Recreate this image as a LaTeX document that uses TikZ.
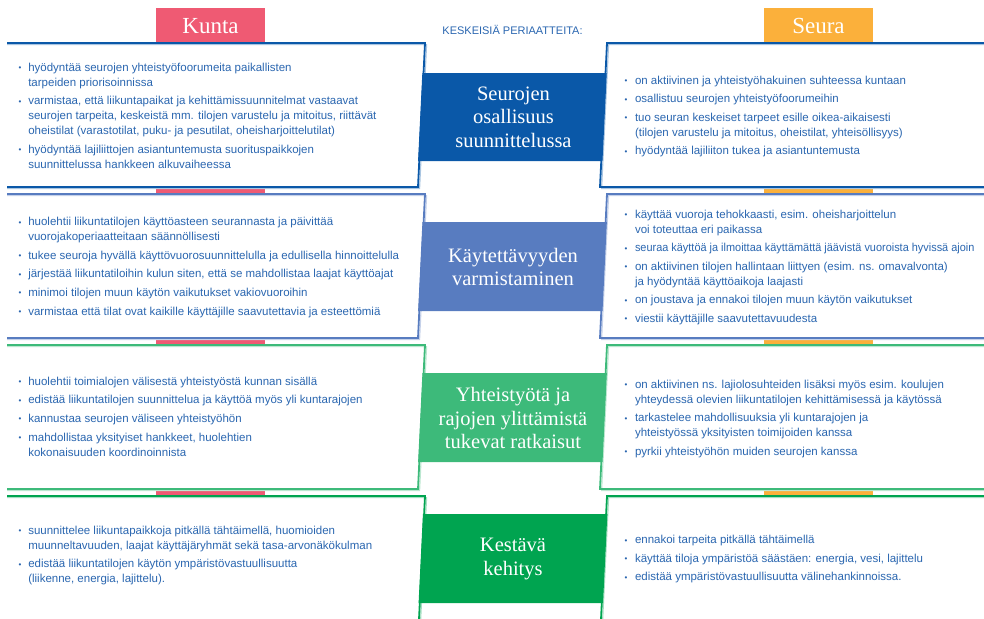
\documentclass[tikz,border=0pt]{standalone}
\usepackage{fontspec}
\setmainfont{Liberation Sans}
\newfontfamily\serifT{Liberation Serif}
\definecolor{cA}{HTML}{0A58A8}
\definecolor{cB}{HTML}{587CC0}
\definecolor{cC}{HTML}{3DBA7A}
\definecolor{cD}{HTML}{00A450}
\definecolor{kpink}{HTML}{EF5A73}
\definecolor{sorange}{HTML}{FBB03B}
\definecolor{txt}{HTML}{2A66B0}
\newcommand{\bul}{{\fontsize{8}{8}\selectfont\raisebox{0.6pt}{\textbullet}}}
\newcommand{\ig}{\\[3.6pt]}
\newcommand{\lblock}[1]{\begin{tabular}[t]{@{}p{9.6pt}@{}l@{}}#1\end{tabular}}
\newcommand{\rblock}[1]{\begin{tabular}[t]{@{}p{10.3pt}@{}l@{}}#1\end{tabular}}
\begin{document}
\begin{tikzpicture}[x=1pt,y=-1pt,
  body/.style={anchor=base west, inner sep=0pt, text=txt, font=\fontsize{11.5}{15}\selectfont},
  titletext/.style={text=white, align=center, inner sep=0pt, font=\serifT\fontsize{20.5}{23.5}\selectfont},
  headtext/.style={text=white, inner sep=0pt, font=\serifT\fontsize{23}{23}\selectfont},
  edge/.style={line width=1.8pt, line join=miter},
  shadow/.style={line width=1.1pt}
  ]
\useasboundingbox (0,0) rectangle (984,618);
\clip (0,0) rectangle (984,618);
% column strips and headers
\fill[kpink] (156,8) rectangle (265,620);
\fill[sorange] (764,8) rectangle (873,620);
\node[headtext] (kunta) at (210.5,26) {Kunta};
\node[headtext] (seura) at (818.5,26) {Seura};
\node[inner sep=0pt, text=txt, font=\fontsize{11}{11}\selectfont] (kesk) at (512.5,30) {KESKEISIÄ PERIAATTEITA:};
% boxes
\foreach \T/\a/\b/\c in {43/73/161/cA,194/222/311/cB,345/373/462/cC,496/514/603/cD}{
  \pgfmathsetmacro\B{\T+144}
  \fill[white] (0,\T) -- (425,\T) -- (418,\B) -- (0,\B) -- cycle;
  \fill[white] (990,\T) -- (607,\T) -- (600,\B) -- (990,\B) -- cycle;
  \draw[shadow,\c!35] (7,\T+1.6) -- (426.6,\T+1.6) -- (419.6,\B+1.6) -- (7,\B+1.6);
  \draw[shadow,\c!35] (990,\T+1.6) -- (608.6,\T+1.6) -- (601.6,\B+1.6) -- (990,\B+1.6);
  \draw[edge,\c] (7,\T) -- (425,\T) -- (418,\B) -- (7,\B);
  \draw[edge,\c] (990,\T) -- (607,\T) -- (600,\B) -- (990,\B);
  \pgfmathsetmacro\la{425-7*(\a-\T)/144-1.2}
  \pgfmathsetmacro\lb{425-7*(\b-\T)/144-1.2}
  \pgfmathsetmacro\ra{607-7*(\a-\T)/144+1.2}
  \pgfmathsetmacro\rb{607-7*(\b-\T)/144+1.2}
  \fill[\c] (\la,\a) -- (\ra,\a) -- (\rb,\b) -- (\lb,\b) -- cycle;
}
% titles
\node[titletext] (t1) at (513.5,117) {Seurojen\\osallisuus\\suunnittelussa};
\node[titletext] (t2) at (513,267) {Käytettävyyden\\varmistaminen};
\node[titletext] (t3) at (513,418) {Yhteistyötä ja\\rajojen ylittämistä\\tukevat ratkaisut};
\node[titletext] (t4) at (513,559) {Kestävä\\kehitys};
% left texts
\node[body] (l1) at (18.5,71.3) {\lblock{%
\bul & hyödyntää seurojen yhteistyöfoorumeita paikallisten\\
 & tarpeiden priorisoinnissa\ig
\bul & varmistaa, että liikuntapaikat ja kehittämissuunnitelmat vastaavat\\
 & seurojen tarpeita, keskeistä mm. tilojen varustelu ja mitoitus, riittävät\\
 & oheistilat (varastotilat, puku- ja pesutilat, oheisharjoittelutilat)\ig
\bul & hyödyntää lajiliittojen asiantuntemusta suorituspaikkojen\\
 & suunnittelussa hankkeen alkuvaiheessa}};
\node[body] (l2) at (18.5,225.7) {\lblock{%
\bul & huolehtii liikuntatilojen käyttöasteen seurannasta ja päivittää\\
 & vuorojakoperiaatteitaan säännöllisesti\ig
\bul & tukee seuroja hyvällä käyttövuorosuunnittelulla ja edullisella hinnoittelulla\ig
\bul & järjestää liikuntatiloihin kulun siten, että se mahdollistaa laajat käyttöajat\ig
\bul & minimoi tilojen muun käytön vaikutukset vakiovuoroihin\ig
\bul & varmistaa että tilat ovat kaikille käyttäjille saavutettavia ja esteettömiä}};
\node[body] (l3) at (18.5,385.3) {\lblock{%
\bul & huolehtii toimialojen välisestä yhteistyöstä kunnan sisällä\ig
\bul & edistää liikuntatilojen suunnittelua ja käyttöä myös yli kuntarajojen\ig
\bul & kannustaa seurojen väliseen yhteistyöhön\ig
\bul & mahdollistaa yksityiset hankkeet, huolehtien\\
 & kokonaisuuden koordinoinnista}};
\node[body] (l4) at (18.5,534) {\lblock{%
\bul & suunnittelee liikuntapaikkoja pitkällä tähtäimellä, huomioiden\\
 & muunneltavuuden, laajat käyttäjäryhmät sekä tasa-arvonäkökulman\ig
\bul & edistää liikuntatilojen käytön ympäristövastuullisuutta\\
 & (liikenne, energia, lajittelu).}};
% right texts
\node[body] (r1) at (624.5,84) {\rblock{%
\bul & on aktiivinen ja yhteistyöhakuinen suhteessa kuntaan\ig
\bul & osallistuu seurojen yhteistyöfoorumeihin\ig
\bul & tuo seuran keskeiset tarpeet esille oikea-aikaisesti\\
 & (tilojen varustelu ja mitoitus, oheistilat, yhteisöllisyys)\ig
\bul & hyödyntää lajiliiton tukea ja asiantuntemusta}};
\node[body] (r2) at (624.5,218) {\rblock{%
\bul & käyttää vuoroja tehokkaasti, esim. oheisharjoittelun\\
 & voi toteuttaa eri paikassa\ig
\bul & \scalebox{0.95}[1]{seuraa käyttöä ja ilmoittaa käyttämättä jäävistä vuoroista hyvissä ajoin}\ig
\bul & on aktiivinen tilojen hallintaan liittyen (esim. ns. omavalvonta)\\
 & ja hyödyntää käyttöaikoja laajasti\ig
\bul & on joustava ja ennakoi tilojen muun käytön vaikutukset\ig
\bul & viestii käyttäjille saavutettavuudesta}};
\node[body] (r3) at (624.5,388) {\rblock{%
\bul & on aktiivinen ns. lajiolosuhteiden lisäksi myös esim. koulujen\\
 & yhteydessä olevien liikuntatilojen kehittämisessä ja käytössä\ig
\bul & tarkastelee mahdollisuuksia yli kuntarajojen ja\\
 & yhteistyössä yksityisten toimijoiden kanssa\ig
\bul & pyrkii yhteistyöhön muiden seurojen kanssa}};
\node[body] (r4) at (624.5,543.7) {\rblock{%
\bul & ennakoi tarpeita pitkällä tähtäimellä\ig
\bul & käyttää tiloja ympäristöä säästäen: energia, vesi, lajittelu\ig
\bul & edistää ympäristövastuullisuutta välinehankinnoissa.}};
\end{tikzpicture}
\end{document}
